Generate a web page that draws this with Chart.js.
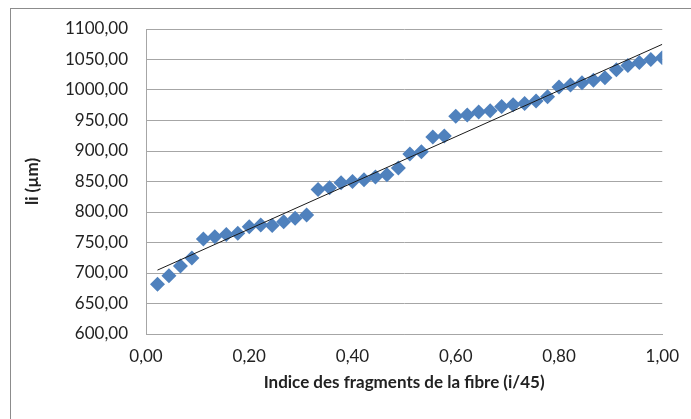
<!DOCTYPE html>
<html>
<head>
<meta charset="utf-8">
<script src="https://cdn.jsdelivr.net/npm/chart.js@4/dist/chart.umd.min.js"></script>
<style>
  html, body { margin: 0; padding: 0; background: #fff; }
  #frame { position: absolute; left: 10px; top: 8px; width: 720px; height: 440px; border: 1px solid #8c8c8c; }
  #wrap { position: absolute; left: 0; top: 0; width: 691px; height: 419px; }
</style>
</head>
<body>
<div id="frame"></div>
<div id="wrap"><canvas id="chart" width="691" height="419"></canvas></div>
<script>
// indice i/45, i = 1..45
const fragmentIndex = [];
for (let i = 1; i <= 45; i++) fragmentIndex.push(i / 45);

// longueur li (µm)
const lengths = [
    681.5, 695.6, 711.5, 724.6, 755.7, 759.5, 763.0, 765.0, 776.0,
    778.7, 778.0, 784.0, 789.6, 795.0, 836.8, 839.6, 847.8, 850.0,
    853.0, 857.4, 861.0, 872.0, 895.0, 898.6, 923.0, 924.4, 957.0,
    959.0, 964.0, 966.0, 973.0, 976.0, 978.0, 982.0, 989.0, 1005.0,
    1008.0, 1012.0, 1016.0, 1020.0, 1033.0, 1040.0, 1045.0, 1050.0, 1053.0
];

const yTicks = [600, 650, 700, 750, 800, 850, 900, 950, 1000, 1050, 1100];
const xTicks = [0, 0.2, 0.4, 0.6, 0.8, 1.0];

// courbe de tendance lineaire (moindres carres)
const n = lengths.length;
const mx = fragmentIndex.reduce((a, b) => a + b, 0) / n;
const my = lengths.reduce((a, b) => a + b, 0) / n;
let sxy = 0, sxx = 0;
for (let i = 0; i < n; i++) {
    sxy += (fragmentIndex[i] - mx) * (lengths[i] - my);
    sxx += (fragmentIndex[i] - mx) ** 2;
}
const slope = sxy / sxx;
const intercept = my - slope * mx;
const xFirst = fragmentIndex[0], xLast = fragmentIndex[n - 1];
const trend = [
    {x: xFirst, y: intercept + slope * xFirst},
    {x: xLast, y: intercept + slope * xLast}
];

const points = fragmentIndex.map((x, i) => ({x: x, y: lengths[i]}));
const fmt = v => Number(v).toFixed(2).replace('.', ',');
const font = {family: 'Lato', size: 17};

new Chart(document.getElementById('chart').getContext('2d'), {
    type: 'scatter',
    data: {
        datasets: [{
            label: 'Tendance',
            data: trend,
            showLine: true,
            borderColor: '#1a1a1a',
            borderWidth: 1,
            pointRadius: 0,
            order: 0
        }, {
            label: 'li',
            data: points,
            pointStyle: 'rectRot',
            pointRadius: 7.5,
            pointHoverRadius: 7.5,
            backgroundColor: '#4F81BD',
            borderColor: '#4F81BD',
            borderWidth: 0,
            order: 1
        }]
    },
    options: {
        responsive: false,
        animation: false,
        layout: {padding: {left: 0, top: 29, right: 28, bottom: 0}},
        plugins: {legend: {display: false}, tooltip: {enabled: false}},
        scales: {
            x: {
                type: 'linear',
                min: 0, max: 1,
                afterBuildTicks: s => { s.ticks = xTicks.map(v => ({value: v})); },
                afterFit: s => { s.height = 85; },
                grid: {display: false, drawTicks: false},
                border: {color: '#a6a6a6', width: 1},
                ticks: {color: '#222', font: font, padding: 12, maxRotation: 0, callback: fmt},
                title: {display: true, text: 'Indice des fragments de la fibre (i/45)', color: '#222',
                        font: {family: 'Lato', size: 17, weight: 'bold'}, padding: {top: 0, bottom: 26}}
            },
            y: {
                type: 'linear',
                min: 600, max: 1100,
                afterBuildTicks: s => { s.ticks = yTicks.map(v => ({value: v})); },
                afterFit: s => { s.width = 146; },
                grid: {color: '#a6a6a6', drawTicks: false},
                border: {color: '#a6a6a6', width: 1},
                ticks: {color: '#222', font: font, padding: 18, callback: fmt},
                title: {display: true, text: 'li (µm)', color: '#222',
                        font: {family: 'Lato', size: 17, weight: 'bold'}, padding: {top: 22, bottom: 0}}
            }
        }
    }
});
</script>
</body>
</html>
